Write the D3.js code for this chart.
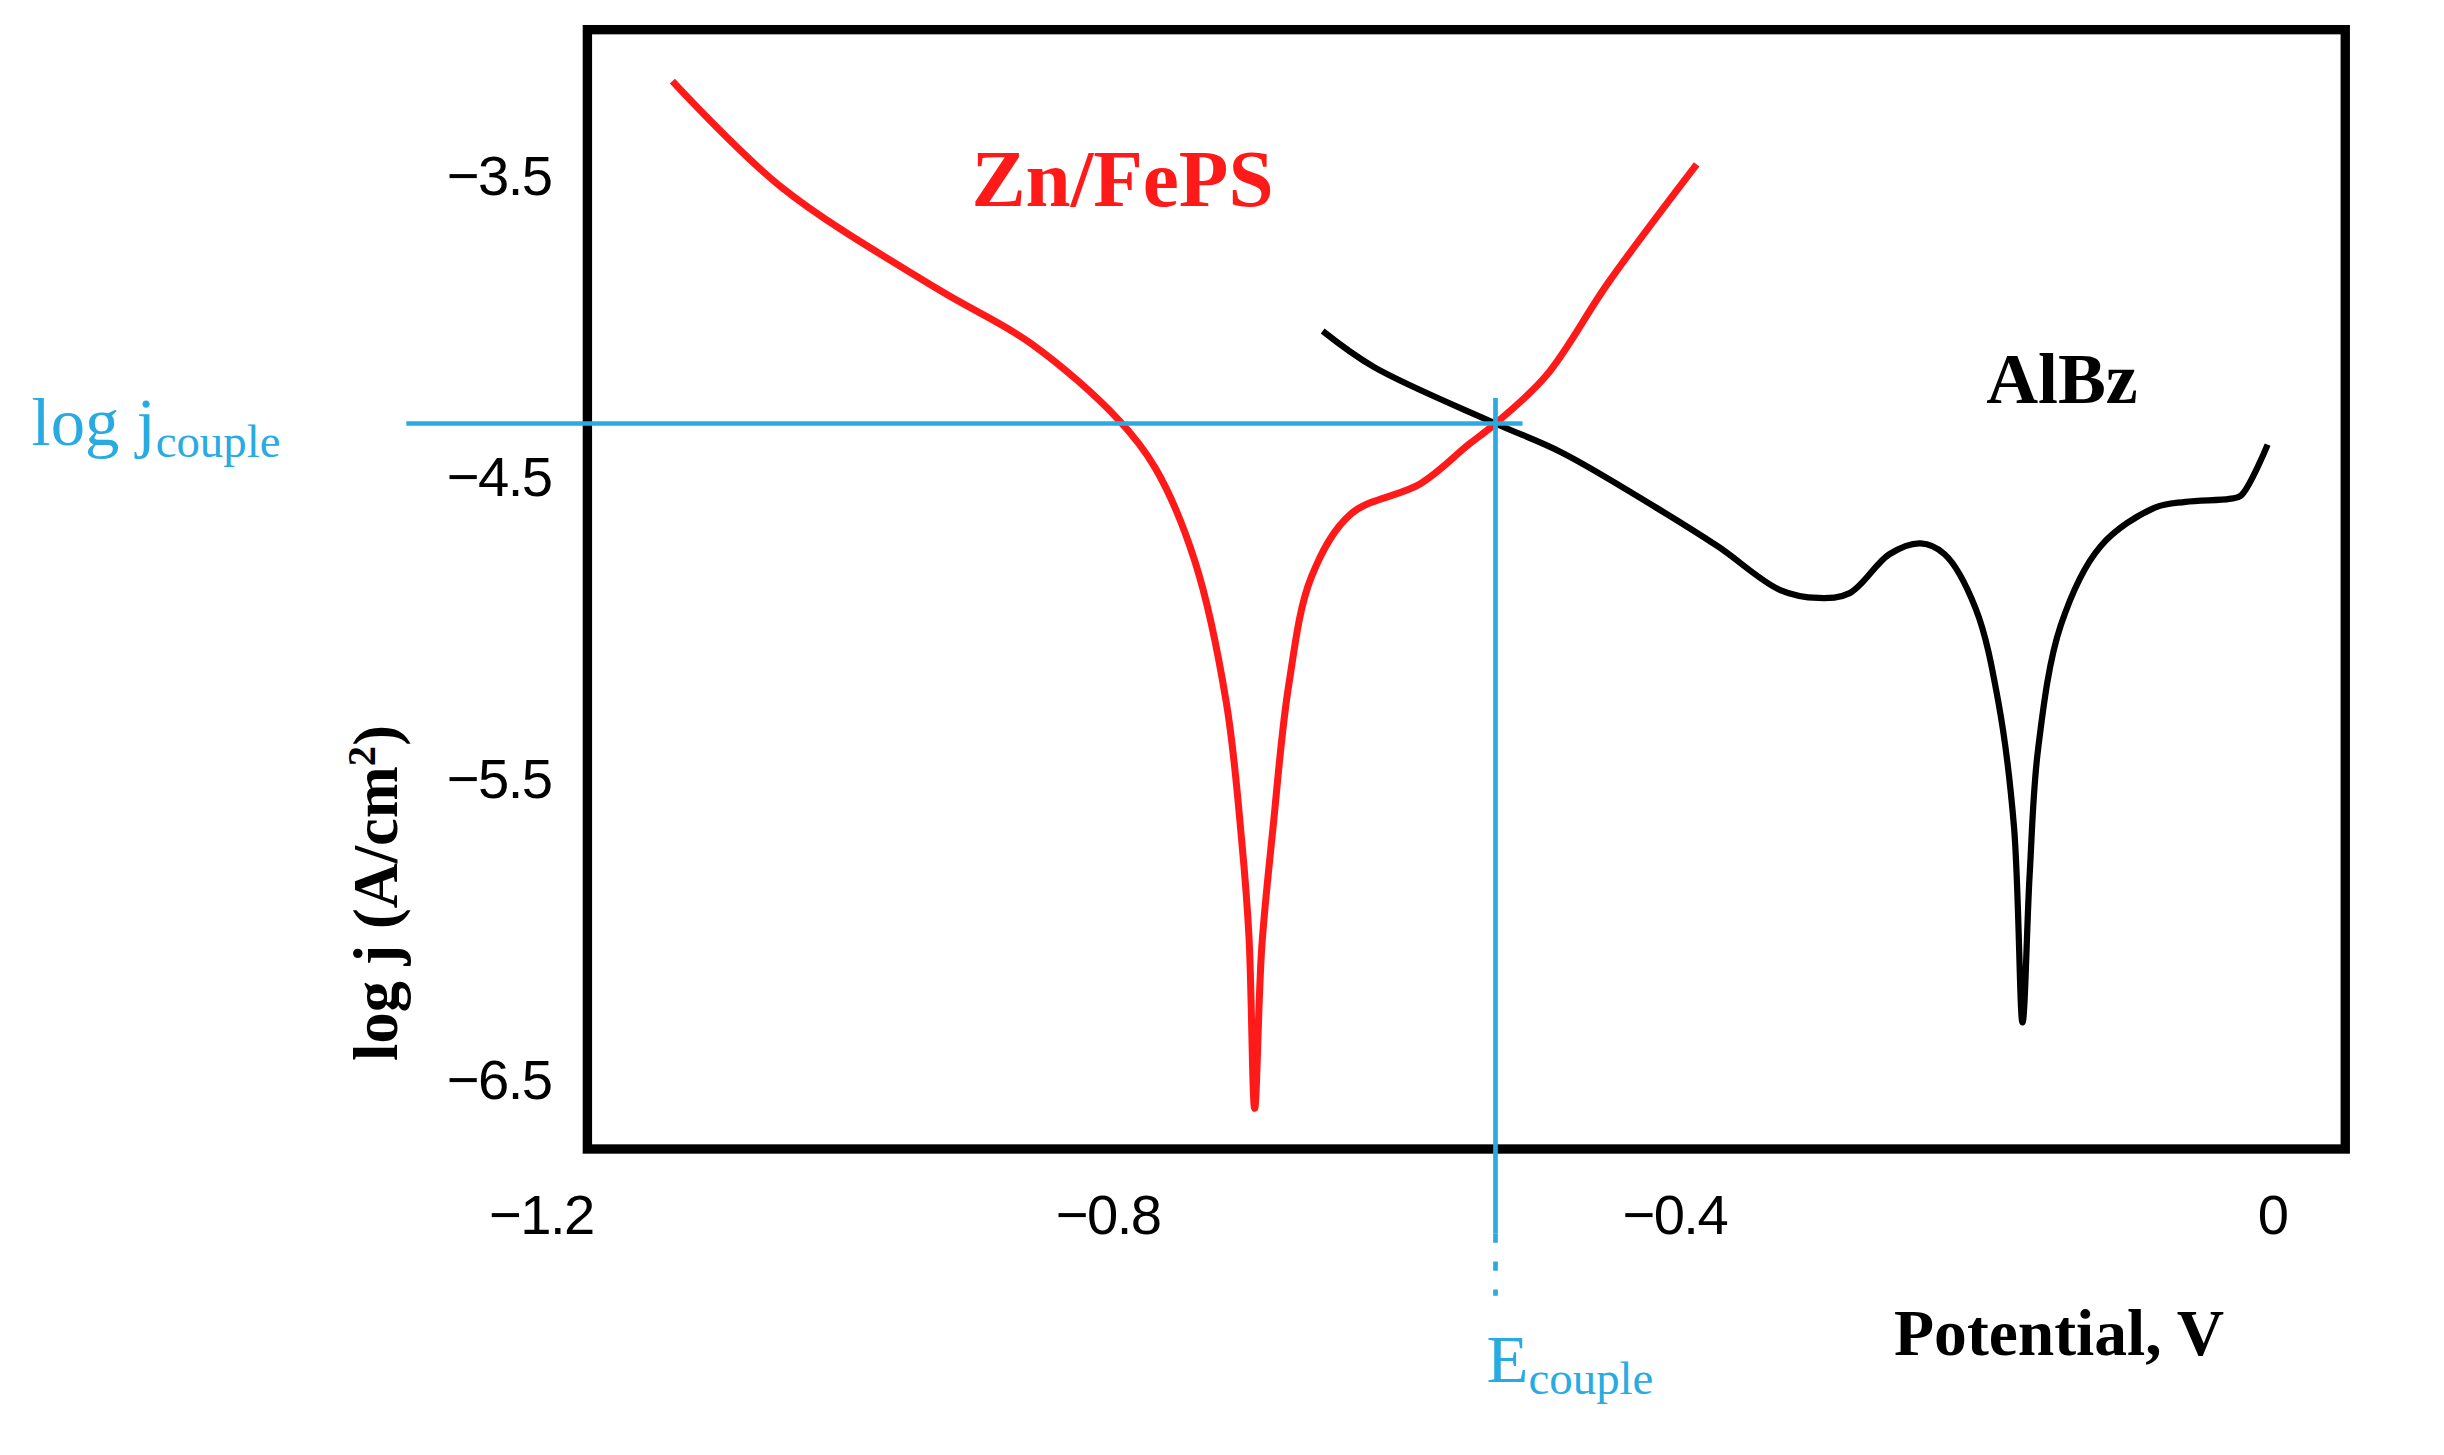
<!DOCTYPE html>
<html><head><meta charset="utf-8">
<script src="https://cdn.jsdelivr.net/npm/d3@7"></script>
<style>html,body{margin:0;padding:0;background:#fff;overflow:hidden}</style>
</head><body>
<script>
const xTicks=[-1.2,-0.8,-0.4,0];
const yTicks=[-3.5,-4.5,-5.5,-6.5];
const znV=[-1.129,-1.052,-0.942,-0.876,-0.815,-0.788,-0.760,-0.738,-0.727,-0.722,-0.718,-0.713,-0.705,-0.694,-0.678,-0.650,-0.601,-0.567,-0.548,-0.512,-0.468,-0.406];
const znJ=[-3.184,-3.536,-3.873,-4.054,-4.303,-4.469,-4.780,-5.246,-5.712,-6.023,-6.593,-6.06,-5.66,-5.19,-4.83,-4.62,-4.52,-4.39,-4.32,-4.16,-3.85,-3.46];
const alV=[-0.670,-0.634,-0.548,-0.501,-0.435,-0.391,-0.347,-0.320,-0.298,-0.270,-0.248,-0.231,-0.209,-0.193,-0.182,-0.176,-0.171,-0.165,-0.149,-0.121,-0.083,-0.061,-0.030,-0.022,-0.003];
const alJ=[-4.013,-4.132,-4.32,-4.417,-4.598,-4.728,-4.873,-4.899,-4.883,-4.754,-4.718,-4.754,-4.935,-5.246,-5.66,-6.308,-5.82,-5.40,-4.99,-4.728,-4.60,-4.58,-4.57,-4.56,-4.39];
const Ecouple=-0.548, Jcouple=-4.32;

const svg=d3.select("body").append("svg").attr("width",2444).attr("height",1455).attr("viewBox","0 0 1565 932");
const x=d3.scaleLinear().domain([-1.2,0]).range([366,1455]);
const y=d3.scaleLinear().domain([-3.5,-6.5]).range([113,692]);
const serif="'Liberation Serif','DejaVu Serif',serif", sans="'Liberation Sans',Arial,sans-serif";
const blue="#29abe2";

svg.append("rect").attr("x",376).attr("y",19).attr("width",1126).attr("height",717).attr("fill","none").attr("stroke","#000").attr("stroke-width",6);

const xa=d3.axisBottom(x).tickValues(xTicks).tickSize(0).tickFormat(d=>d===0?"0":d3.format(".1f")(d).replace("-","−"));
const gx=svg.append("g").attr("transform","translate(0,762)").call(xa);
gx.select(".domain").remove();
gx.selectAll("text").attr("font-family",sans).attr("font-size",36).attr("fill","#000").attr("dx",-20).style("letter-spacing","-1px");
gx.selectAll(".tick:last-child text").attr("dx",0);
const ya=d3.axisLeft(y).tickValues(yTicks).tickSize(0).tickFormat(d=>"−"+d3.format(".1f")(-d));
const gy=svg.append("g").attr("transform","translate(356,0)").call(ya);
gy.select(".domain").remove();
gy.selectAll("text").attr("font-family",sans).attr("font-size",36).attr("fill","#000").style("letter-spacing","-1px");

const lineC=d3.line().x(d=>x(d[0])).y(d=>y(d[1])).curve(d3.curveCatmullRom.alpha(0.5));
svg.append("path").attr("d",lineC(znV.map((v,i)=>[v,znJ[i]]))).attr("fill","none").attr("stroke","#ff1a1a").attr("stroke-width",4.5);
svg.append("path").attr("d",lineC(alV.map((v,i)=>[v,alJ[i]]))).attr("fill","none").attr("stroke","#000").attr("stroke-width",4);

svg.append("line").attr("x1",260).attr("x2",975).attr("y1",y(Jcouple)).attr("y2",y(Jcouple)).attr("stroke",blue).attr("stroke-width",3);
svg.append("line").attr("x1",x(Ecouple)).attr("x2",x(Ecouple)).attr("y1",255).attr("y2",790).attr("stroke",blue).attr("stroke-width",3);
svg.append("line").attr("x1",x(Ecouple)).attr("x2",x(Ecouple)).attr("y1",790).attr("y2",830).attr("stroke",blue).attr("stroke-width",3).attr("stroke-dasharray","6,12");

const t1=svg.append("text").attr("x",20).attr("y",285).attr("font-family",serif).attr("font-size",44).attr("fill",blue);
t1.append("tspan").text("log j");
t1.append("tspan").attr("font-size",30).attr("dy",8).text("couple");
const t2=svg.append("text").attr("x",952).attr("y",885).attr("font-family",serif).attr("font-size",44).attr("fill",blue);
t2.append("tspan").text("E");
t2.append("tspan").attr("font-size",30).attr("dy",8).text("couple");

svg.append("text").attr("x",622).attr("y",132).attr("font-family",serif).attr("font-weight","bold").attr("font-size",52).attr("fill","#ff1a1a").text("Zn/FePS");
svg.append("text").attr("x",1272).attr("y",258).attr("font-family",serif).attr("font-weight","bold").attr("font-size",46).attr("fill","#000").text("AlBz");
svg.append("text").attr("x",1213).attr("y",868).attr("font-family",serif).attr("font-weight","bold").attr("font-size",42).attr("fill","#000").text("Potential, V");
const yt=svg.append("text").attr("transform","translate(254,572) rotate(-90)").attr("text-anchor","middle").attr("font-family",serif).attr("font-weight","bold").attr("font-size",40).attr("fill","#000");
yt.append("tspan").text("log j (A/cm");
yt.append("tspan").attr("font-size",26).attr("dy",-14).text("2");
yt.append("tspan").attr("dy",14).text(")");
</script>
</body></html>
